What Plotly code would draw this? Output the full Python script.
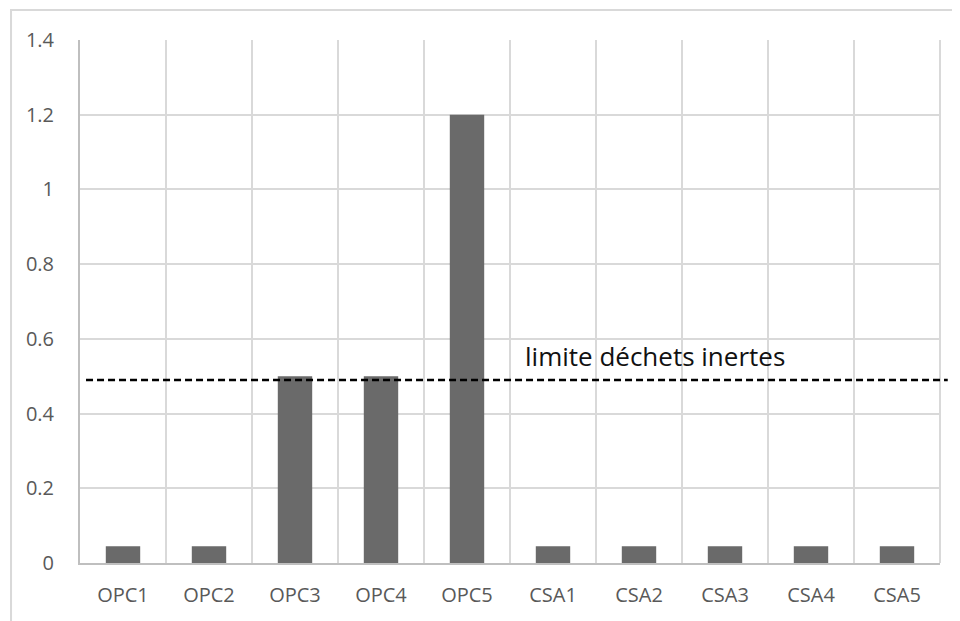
import plotly.graph_objects as go

categories = ["OPC1", "OPC2", "OPC3", "OPC4", "OPC5", "CSA1", "CSA2", "CSA3", "CSA4", "CSA5"]
values = [0.045, 0.045, 0.5, 0.5, 1.2, 0.045, 0.045, 0.045, 0.045, 0.045]
limit_value = 0.49
limit_label = "limite déchets inertes"
y_ticks = [0, 0.2, 0.4, 0.6, 0.8, 1.0, 1.2, 1.4]
y_ticktext = ["0", "0.2", "0.4", "0.6", "0.8", "1", "1.2", "1.4"]

xpos = list(range(len(categories)))

fig = go.Figure()
fig.add_trace(go.Bar(
    x=xpos, y=values, width=0.4,
    marker=dict(color="#6a6a6a", line=dict(width=0)),
    showlegend=False, hoverinfo="skip",
))

grid = "#d9d9d9"
fig.update_layout(
    width=952, height=613,
    margin=dict(l=72, r=20, t=32, b=58),
    paper_bgcolor="white", plot_bgcolor="white",
    font=dict(family="Open Sans", size=20, color="#595959"),
    xaxis=dict(
        range=[-0.5, len(categories) - 0.5],
        tickvals=xpos, ticktext=categories,
        showgrid=False, zeroline=False,
        showline=True, linecolor="#bfbfbf", linewidth=2,
        ticks="", ticklabelstandoff=13,
        minor=dict(tick0=-0.5, dtick=1, showgrid=True, gridcolor=grid, gridwidth=2, ticks=""),
        mirror=False,
    ),
    yaxis=dict(
        range=[0, 1.4],
        tickvals=y_ticks, ticktext=y_ticktext,
        showgrid=True, gridcolor=grid, gridwidth=2,
        zeroline=False,
        showline=True, linecolor="#bfbfbf", linewidth=2,
        ticks="", ticklabelstandoff=20,
    ),
)

# right border of plot area
fig.add_shape(type="line", xref="paper", yref="paper", x0=1, x1=1, y0=0, y1=1,
              line=dict(color=grid, width=2), layer="below")

# outer chart border (cropped)
fig.add_shape(type="rect", xref="paper", yref="paper",
              x0=-0.0802, x1=1.2, y0=-0.3, y1=1.0574,
              line=dict(color="#d9d9d9", width=2), fillcolor="rgba(0,0,0,0)", layer="below")

# limit dashed line
fig.add_shape(type="line", xref="paper", yref="y", x0=0.007, x1=1.009,
              y0=limit_value, y1=limit_value,
              line=dict(color="black", width=2.5, dash="7px,4px"))

fig.add_annotation(
    x=(523 - 80) / 860, xref="paper", xanchor="left",
    y=0.6 - 0.045, yref="y", yanchor="middle",
    text=limit_label, showarrow=False,
    font=dict(family="Open Sans", size=26, color="#111111"),
)

fig.write_html("out.html")
